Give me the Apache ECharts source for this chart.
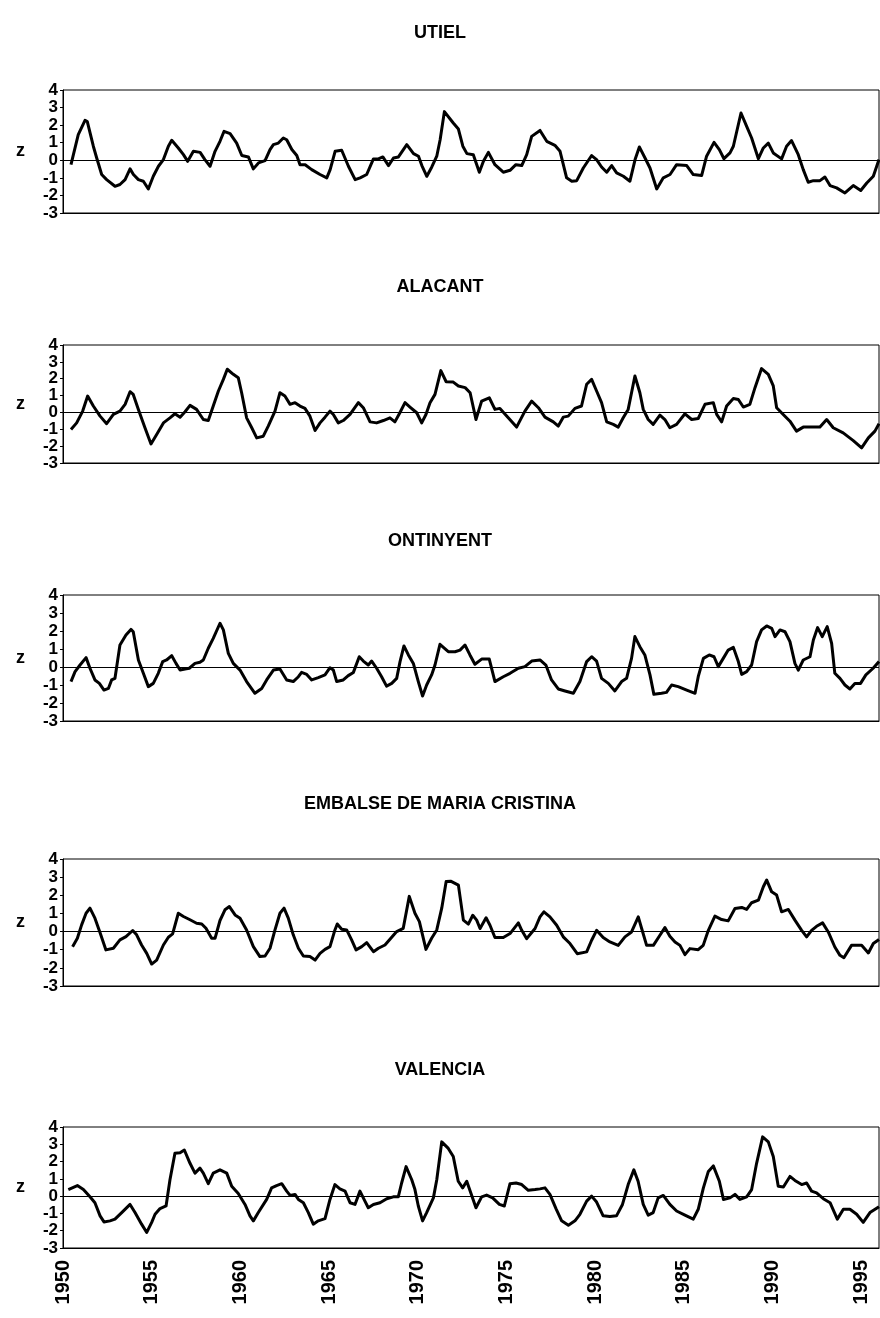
<!DOCTYPE html>
<html><head><meta charset="utf-8">
<script src="https://cdn.jsdelivr.net/npm/echarts@6/dist/echarts.min.js"></script>
<style>html,body{margin:0;padding:0;background:#fff}#c{width:880px;height:1318px}</style>
</head><body><div id="c"></div>
<script>
const stationNames = ['UTIEL', 'ALACANT', 'ONTINYENT', 'EMBALSE DE MARIA CRISTINA', 'VALENCIA'];
const yearMin = 1950, yearMax = 1996, yearStep = 5;
const zMin = -3, zMax = 4;

const utiel = [[1950.45,-0.25],[1950.86,1.46],[1951.24,2.27],[1951.37,2.2],[1951.71,0.8],[1951.9,0.13],[1952.18,-0.81],[1952.46,-1.1],[1952.93,-1.48],[1953.21,-1.38],[1953.5,-1.1],[1953.78,-0.49],[1953.97,-0.81],[1954.25,-1.1],[1954.53,-1.19],[1954.81,-1.63],[1955.09,-0.91],[1955.38,-0.34],[1955.66,0.04],[1955.94,0.8],[1956.13,1.14],[1956.5,0.7],[1956.79,0.32],[1957.03,-0.06],[1957.35,0.51],[1957.73,0.45],[1958.0,0.04],[1958.29,-0.34],[1958.57,0.51],[1958.85,1.08],[1959.08,1.65],[1959.42,1.52],[1959.79,0.98],[1960.08,0.27],[1960.45,0.19],[1960.73,-0.49],[1961.02,-0.15],[1961.39,-0.02],[1961.67,0.61],[1961.86,0.89],[1962.14,0.98],[1962.42,1.27],[1962.61,1.17],[1962.9,0.61],[1963.18,0.27],[1963.36,-0.25],[1963.65,-0.25],[1964.02,-0.53],[1964.49,-0.81],[1964.87,-1.0],[1965.06,-0.53],[1965.34,0.51],[1965.71,0.57],[1966.09,-0.34],[1966.47,-1.1],[1966.75,-1.0],[1967.12,-0.81],[1967.5,0.08],[1967.78,0.08],[1968.03,0.19],[1968.35,-0.3],[1968.63,0.13],[1968.91,0.19],[1969.38,0.89],[1969.76,0.38],[1970.04,0.23],[1970.23,-0.3],[1970.51,-0.91],[1970.79,-0.38],[1971.07,0.23],[1971.26,1.17],[1971.5,2.77],[1972.0,2.12],[1972.29,1.78],[1972.54,0.8],[1972.77,0.38],[1973.13,0.32],[1973.47,-0.68],[1973.7,-0.06],[1973.98,0.45],[1974.35,-0.25],[1974.82,-0.68],[1975.2,-0.57],[1975.53,-0.25],[1975.86,-0.3],[1976.14,0.32],[1976.42,1.36],[1976.89,1.7],[1977.27,1.08],[1977.73,0.85],[1978.02,0.51],[1978.39,-1.0],[1978.68,-1.19],[1978.96,-1.16],[1979.33,-0.44],[1979.8,0.27],[1980.08,0.04],[1980.36,-0.38],[1980.65,-0.68],[1980.93,-0.3],[1981.21,-0.72],[1981.59,-0.91],[1981.96,-1.19],[1982.25,0.04],[1982.49,0.76],[1982.81,0.13],[1983.09,-0.44],[1983.47,-1.63],[1983.84,-1.0],[1984.22,-0.81],[1984.59,-0.25],[1985.16,-0.3],[1985.53,-0.81],[1986.0,-0.87],[1986.28,0.23],[1986.7,1.02],[1987.0,0.61],[1987.26,0.09],[1987.6,0.42],[1987.79,0.8],[1988.22,2.69],[1988.54,1.93],[1988.82,1.27],[1989.2,0.09],[1989.48,0.7],[1989.76,0.98],[1990.04,0.42],[1990.51,0.08],[1990.79,0.8],[1991.07,1.12],[1991.45,0.32],[1991.73,-0.53],[1992.01,-1.25],[1992.3,-1.16],[1992.67,-1.16],[1992.95,-0.95],[1993.24,-1.44],[1993.61,-1.57],[1994.08,-1.86],[1994.55,-1.44],[1994.97,-1.72],[1995.31,-1.29],[1995.68,-0.91],[1996.0,0.04]];

const alacant = [[1950.45,-1.01],[1950.77,-0.62],[1951.11,0.08],[1951.39,0.97],[1951.71,0.38],[1952.09,-0.22],[1952.46,-0.67],[1952.84,-0.12],[1953.21,0.08],[1953.5,0.48],[1953.78,1.23],[1953.96,1.07],[1954.25,0.18],[1954.62,-0.91],[1954.96,-1.87],[1955.28,-1.31],[1955.66,-0.62],[1956.03,-0.32],[1956.31,-0.08],[1956.6,-0.28],[1956.88,0.04],[1957.16,0.42],[1957.53,0.18],[1957.91,-0.42],[1958.19,-0.48],[1958.47,0.38],[1958.76,1.27],[1959.04,1.96],[1959.26,2.56],[1959.6,2.26],[1959.88,2.06],[1960.07,1.17],[1960.35,-0.32],[1960.64,-0.91],[1960.92,-1.51],[1961.29,-1.41],[1961.57,-0.81],[1961.95,0.08],[1962.23,1.17],[1962.51,0.97],[1962.8,0.48],[1963.08,0.58],[1963.36,0.38],[1963.64,0.24],[1963.92,-0.22],[1964.21,-1.07],[1964.49,-0.62],[1964.77,-0.28],[1965.05,0.08],[1965.24,-0.12],[1965.52,-0.62],[1965.8,-0.48],[1966.18,-0.12],[1966.65,0.58],[1966.93,0.28],[1967.31,-0.56],[1967.68,-0.62],[1968.06,-0.48],[1968.43,-0.32],[1968.71,-0.56],[1968.99,-0.02],[1969.28,0.58],[1969.56,0.32],[1969.94,-0.02],[1970.22,-0.62],[1970.46,-0.12],[1970.69,0.58],[1970.97,1.07],[1971.3,2.48],[1971.6,1.82],[1972.0,1.8],[1972.29,1.57],[1972.67,1.47],[1972.95,1.17],[1973.28,-0.42],[1973.6,0.67],[1974.03,0.87],[1974.35,0.18],[1974.63,0.24],[1975.1,-0.32],[1975.57,-0.87],[1976.04,0.08],[1976.42,0.67],[1976.8,0.28],[1977.17,-0.28],[1977.64,-0.56],[1977.92,-0.81],[1978.2,-0.28],[1978.48,-0.22],[1978.86,0.24],[1979.23,0.38],[1979.52,1.67],[1979.8,1.96],[1980.08,1.27],[1980.36,0.58],[1980.65,-0.56],[1981.02,-0.71],[1981.3,-0.87],[1981.58,-0.32],[1981.86,0.18],[1982.05,1.17],[1982.24,2.16],[1982.52,1.17],[1982.71,0.18],[1982.99,-0.42],[1983.27,-0.71],[1983.65,-0.16],[1983.93,-0.42],[1984.21,-0.91],[1984.59,-0.71],[1985.06,-0.08],[1985.44,-0.42],[1985.81,-0.36],[1986.19,0.48],[1986.66,0.58],[1986.85,-0.12],[1987.13,-0.56],[1987.41,0.38],[1987.79,0.83],[1988.07,0.77],[1988.35,0.32],[1988.72,0.48],[1989.01,1.47],[1989.38,2.6],[1989.76,2.26],[1990.04,1.57],[1990.23,0.28],[1990.6,-0.12],[1990.98,-0.52],[1991.35,-1.11],[1991.73,-0.87],[1992.11,-0.87],[1992.67,-0.87],[1993.05,-0.42],[1993.42,-0.91],[1993.98,-1.21],[1994.55,-1.67],[1995.02,-2.1],[1995.4,-1.51],[1995.77,-1.11],[1996.0,-0.67]];

const ontinyent = [[1950.45,-0.81],[1950.68,-0.26],[1950.96,0.11],[1951.3,0.52],[1951.52,-0.07],[1951.8,-0.72],[1952.05,-0.91],[1952.31,-1.28],[1952.56,-1.19],[1952.74,-0.72],[1952.93,-0.63],[1953.21,1.22],[1953.55,1.78],[1953.83,2.09],[1953.96,1.96],[1954.25,0.39],[1954.53,-0.35],[1954.81,-1.09],[1955.09,-0.91],[1955.37,-0.35],[1955.62,0.3],[1955.84,0.39],[1956.13,0.63],[1956.37,0.2],[1956.6,-0.17],[1956.88,-0.11],[1957.12,-0.07],[1957.44,0.2],[1957.72,0.26],[1957.91,0.39],[1958.19,1.04],[1958.47,1.59],[1958.85,2.43],[1959.04,2.06],[1959.32,0.76],[1959.6,0.2],[1959.98,-0.17],[1960.35,-0.81],[1960.82,-1.46],[1961.2,-1.19],[1961.48,-0.72],[1961.86,-0.17],[1962.23,-0.11],[1962.61,-0.72],[1962.98,-0.81],[1963.27,-0.54],[1963.45,-0.3],[1963.74,-0.41],[1964.02,-0.72],[1964.39,-0.59],[1964.77,-0.44],[1965.05,-0.04],[1965.24,-0.17],[1965.43,-0.81],[1965.8,-0.72],[1966.08,-0.48],[1966.37,-0.3],[1966.7,0.57],[1966.93,0.33],[1967.21,0.11],[1967.4,0.33],[1967.68,-0.07],[1967.96,-0.54],[1968.24,-1.06],[1968.53,-0.91],[1968.81,-0.63],[1969.0,0.3],[1969.22,1.17],[1969.47,0.67],[1969.75,0.2],[1970.03,-0.81],[1970.27,-1.61],[1970.5,-1.0],[1970.78,-0.44],[1970.97,0.11],[1971.25,1.26],[1971.72,0.85],[1972.1,0.85],[1972.38,0.94],[1972.66,1.22],[1972.94,0.67],[1973.22,0.15],[1973.6,0.44],[1974.03,0.44],[1974.35,-0.81],[1974.82,-0.54],[1975.2,-0.35],[1975.67,-0.07],[1976.04,0.02],[1976.42,0.33],[1976.89,0.39],[1977.22,0.11],[1977.54,-0.72],[1977.92,-1.22],[1978.3,-1.33],[1978.77,-1.46],[1979.14,-0.81],[1979.52,0.3],[1979.8,0.57],[1980.08,0.33],[1980.36,-0.63],[1980.74,-0.91],[1981.11,-1.33],[1981.49,-0.81],[1981.77,-0.63],[1982.05,0.48],[1982.24,1.69],[1982.52,1.13],[1982.8,0.67],[1983.09,-0.44],[1983.31,-1.52],[1983.74,-1.46],[1984.02,-1.41],[1984.31,-1.0],[1984.68,-1.09],[1985.16,-1.28],[1985.63,-1.46],[1985.81,-0.54],[1986.1,0.48],[1986.43,0.67],[1986.7,0.57],[1986.94,0.02],[1987.22,0.48],[1987.5,0.94],[1987.79,1.09],[1988.07,0.3],[1988.26,-0.41],[1988.54,-0.26],[1988.82,0.11],[1989.1,1.41],[1989.38,2.06],[1989.67,2.28],[1989.95,2.15],[1990.14,1.69],[1990.42,2.06],[1990.7,1.96],[1990.98,1.41],[1991.26,0.2],[1991.45,-0.17],[1991.73,0.39],[1992.11,0.57],[1992.3,1.5],[1992.54,2.19],[1992.8,1.69],[1993.08,2.24],[1993.33,1.31],[1993.51,-0.35],[1993.8,-0.63],[1994.08,-1.0],[1994.36,-1.22],[1994.64,-0.91],[1994.96,-0.91],[1995.26,-0.44],[1995.67,-0.07],[1996.0,0.3]];

const embalse = [[1950.54,-0.83],[1950.81,-0.37],[1951.05,0.37],[1951.3,1.01],[1951.52,1.29],[1951.8,0.74],[1952.09,-0.06],[1952.42,-1.01],[1952.84,-0.92],[1953.21,-0.46],[1953.55,-0.28],[1953.93,0.06],[1954.15,-0.18],[1954.43,-0.74],[1954.72,-1.2],[1955.0,-1.79],[1955.28,-1.57],[1955.66,-0.74],[1955.94,-0.31],[1956.18,-0.13],[1956.5,1.01],[1956.79,0.83],[1957.16,0.65],[1957.53,0.46],[1957.82,0.42],[1958.06,0.18],[1958.38,-0.37],[1958.57,-0.37],[1958.85,0.61],[1959.13,1.2],[1959.38,1.38],[1959.7,0.92],[1959.98,0.74],[1960.35,0.09],[1960.73,-0.83],[1961.1,-1.38],[1961.39,-1.35],[1961.67,-0.92],[1961.95,0.09],[1962.23,1.01],[1962.46,1.29],[1962.7,0.74],[1962.98,-0.18],[1963.27,-0.92],[1963.55,-1.35],[1963.92,-1.38],[1964.21,-1.57],[1964.49,-1.2],[1964.77,-0.98],[1965.05,-0.83],[1965.33,0.09],[1965.46,0.42],[1965.71,0.13],[1965.99,0.09],[1966.27,-0.46],[1966.52,-1.01],[1966.84,-0.83],[1967.12,-0.61],[1967.5,-1.11],[1967.78,-0.92],[1968.15,-0.74],[1968.53,-0.31],[1968.81,0.0],[1969.18,0.18],[1969.52,1.94],[1969.84,1.01],[1970.09,0.55],[1970.46,-0.98],[1970.78,-0.37],[1971.07,0.09],[1971.35,1.29],[1971.6,2.76],[1971.85,2.78],[1972.29,2.56],[1972.57,0.63],[1972.85,0.41],[1973.1,0.9],[1973.32,0.63],[1973.51,0.17],[1973.85,0.76],[1974.07,0.35],[1974.35,-0.33],[1974.82,-0.33],[1975.2,-0.11],[1975.67,0.48],[1975.86,0.07],[1976.14,-0.39],[1976.61,0.17],[1976.89,0.81],[1977.11,1.09],[1977.45,0.81],[1977.83,0.35],[1978.2,-0.29],[1978.58,-0.66],[1978.99,-1.22],[1979.52,-1.12],[1979.8,-0.48],[1980.08,0.07],[1980.45,-0.33],[1980.83,-0.57],[1981.3,-0.76],[1981.68,-0.29],[1982.05,-0.02],[1982.43,0.81],[1982.62,0.17],[1982.9,-0.76],[1983.28,-0.76],[1983.65,-0.2],[1983.93,0.22],[1984.21,-0.26],[1984.5,-0.57],[1984.78,-0.76],[1985.06,-1.27],[1985.34,-0.94],[1985.81,-1.0],[1986.09,-0.76],[1986.38,0.07],[1986.75,0.85],[1987.13,0.66],[1987.5,0.59],[1987.88,1.27],[1988.26,1.33],[1988.54,1.22],[1988.82,1.59],[1989.2,1.73],[1989.48,2.47],[1989.67,2.84],[1989.95,2.19],[1990.23,2.01],[1990.51,1.09],[1990.89,1.22],[1991.26,0.63],[1991.64,0.07],[1991.92,-0.29],[1992.2,0.07],[1992.48,0.29],[1992.82,0.48],[1993.14,-0.02],[1993.51,-0.85],[1993.8,-1.31],[1994.02,-1.44],[1994.45,-0.76],[1995.02,-0.76],[1995.4,-1.18],[1995.68,-0.66],[1996.0,-0.44]];

const valencia = [[1950.3,0.38],[1950.81,0.61],[1951.15,0.38],[1951.52,-0.04],[1951.8,-0.38],[1952.09,-1.14],[1952.31,-1.49],[1952.65,-1.43],[1952.93,-1.33],[1953.31,-0.95],[1953.78,-0.48],[1954.06,-0.95],[1954.43,-1.62],[1954.72,-2.1],[1955.0,-1.52],[1955.19,-1.05],[1955.47,-0.72],[1955.81,-0.57],[1956.03,0.95],[1956.31,2.48],[1956.6,2.51],[1956.84,2.67],[1957.16,1.9],[1957.44,1.33],[1957.72,1.62],[1957.91,1.33],[1958.19,0.72],[1958.47,1.33],[1958.85,1.52],[1959.23,1.33],[1959.51,0.57],[1959.88,0.15],[1960.26,-0.48],[1960.54,-1.14],[1960.73,-1.43],[1961.01,-0.95],[1961.48,-0.19],[1961.76,0.48],[1962.04,0.61],[1962.33,0.72],[1962.61,0.29],[1962.8,0.04],[1963.08,0.1],[1963.27,-0.19],[1963.55,-0.38],[1963.83,-0.95],[1964.11,-1.62],[1964.39,-1.43],[1964.77,-1.3],[1965.05,-0.19],[1965.33,0.67],[1965.61,0.42],[1965.9,0.29],[1966.18,-0.38],[1966.46,-0.48],[1966.74,0.29],[1967.02,-0.29],[1967.21,-0.67],[1967.5,-0.48],[1967.87,-0.38],[1968.25,-0.15],[1968.62,-0.04],[1968.9,-0.04],[1969.09,0.76],[1969.34,1.71],[1969.66,0.95],[1969.84,0.38],[1970.03,-0.57],[1970.27,-1.43],[1970.5,-0.95],[1970.88,-0.1],[1971.07,0.95],[1971.35,3.14],[1971.72,2.76],[1972.0,2.29],[1972.28,0.86],[1972.53,0.48],[1972.76,0.86],[1973.04,0.04],[1973.28,-0.67],[1973.6,-0.04],[1973.88,0.06],[1974.22,-0.1],[1974.6,-0.48],[1974.88,-0.57],[1975.2,0.72],[1975.54,0.76],[1975.86,0.67],[1976.23,0.34],[1976.61,0.38],[1976.89,0.42],[1977.17,0.48],[1977.45,0.1],[1977.79,-0.72],[1978.11,-1.43],[1978.49,-1.68],[1978.86,-1.43],[1979.14,-1.05],[1979.52,-0.29],[1979.8,0.0],[1980.08,-0.34],[1980.45,-1.14],[1980.83,-1.18],[1981.2,-1.14],[1981.54,-0.48],[1981.86,0.67],[1982.18,1.52],[1982.42,0.86],[1982.71,-0.48],[1982.99,-1.1],[1983.27,-0.95],[1983.55,-0.1],[1983.84,0.04],[1984.21,-0.48],[1984.59,-0.86],[1985.06,-1.1],[1985.53,-1.33],[1985.81,-0.76],[1986.1,0.48],[1986.38,1.43],[1986.66,1.75],[1987.0,0.86],[1987.23,-0.19],[1987.6,-0.1],[1987.88,0.1],[1988.16,-0.19],[1988.54,-0.04],[1988.82,0.38],[1989.1,1.9],[1989.44,3.43],[1989.76,3.14],[1990.04,2.29],[1990.32,0.57],[1990.61,0.53],[1990.98,1.14],[1991.26,0.91],[1991.64,0.67],[1991.92,0.76],[1992.2,0.29],[1992.48,0.19],[1992.86,-0.15],[1993.24,-0.38],[1993.65,-1.33],[1993.99,-0.76],[1994.36,-0.76],[1994.74,-1.05],[1995.11,-1.52],[1995.49,-0.95],[1996.0,-0.61]];

const seriesData = [utiel, alacant, ontinyent, embalse, valencia];

// layout
const panelTop = [90, 345, 595, 859, 1127];
const panelHeight = [123, 118, 126, 127, 121];
const titleTop = [19, 273, 527, 790, 1056];
const FONT = '"Liberation Sans", Arial, sans-serif';

const chart = echarts.init(document.getElementById('c'), null, {renderer: 'canvas'});
const option = {
  animation: false,
  backgroundColor: '#fff',
  title: stationNames.map((n, i) => ({
    text: n, left: 'center', top: titleTop[i],
    textStyle: {fontFamily: FONT, fontWeight: 'bold', fontSize: 18, color: '#000'}
  })),
  grid: stationNames.map((n, i) => ({
    left: 63, right: 1, top: panelTop[i], height: panelHeight[i],
    show: true, borderColor: '#000', borderWidth: 1, backgroundColor: 'transparent',
    containLabel: false, outerBoundsMode: 'none'
  })),
  xAxis: stationNames.map((n, i) => ({
    type: 'value', gridIndex: i, min: yearMin, max: yearMax, interval: yearStep,
    axisLine: {show: true, onZero: false, lineStyle: {color: '#000', width: 1}},
    axisTick: {show: false},
    splitLine: {show: false},
    axisLabel: {
      show: i === 4, rotate: 90, margin: 12, color: '#000',
      fontFamily: FONT, fontWeight: 'bold', fontSize: 20,
      showMaxLabel: false, formatter: v => String(v)
    }
  })),
  yAxis: stationNames.map((n, i) => ({
    type: 'value', gridIndex: i, min: zMin, max: zMax, interval: 1,
    name: 'z', nameLocation: 'middle', nameRotate: 0, nameGap: 38,
    nameTextStyle: {fontFamily: FONT, fontWeight: 'bold', fontSize: 18, color: '#000'},
    axisLine: {show: true, lineStyle: {color: '#000', width: 1}},
    axisTick: {show: true, length: 3, inside: false, lineStyle: {color: '#000'}},
    splitLine: {show: false},
    axisLabel: {color: '#000', fontFamily: FONT, fontWeight: 'bold', fontSize: 17, margin: 5}
  })),
  series: seriesData.map((d, i) => ({
    type: 'line', xAxisIndex: i, yAxisIndex: i, data: d,
    showSymbol: false, symbol: 'none', smooth: false,
    lineStyle: {color: '#000', width: 3, join: 'round'},
    markLine: {
      silent: true, symbol: ['none', 'none'], label: {show: false},
      lineStyle: {color: '#000', width: 1, type: 'solid'},
      data: [{yAxis: 0}]
    }
  }))
};
chart.setOption(option);
</script>
</body></html>
